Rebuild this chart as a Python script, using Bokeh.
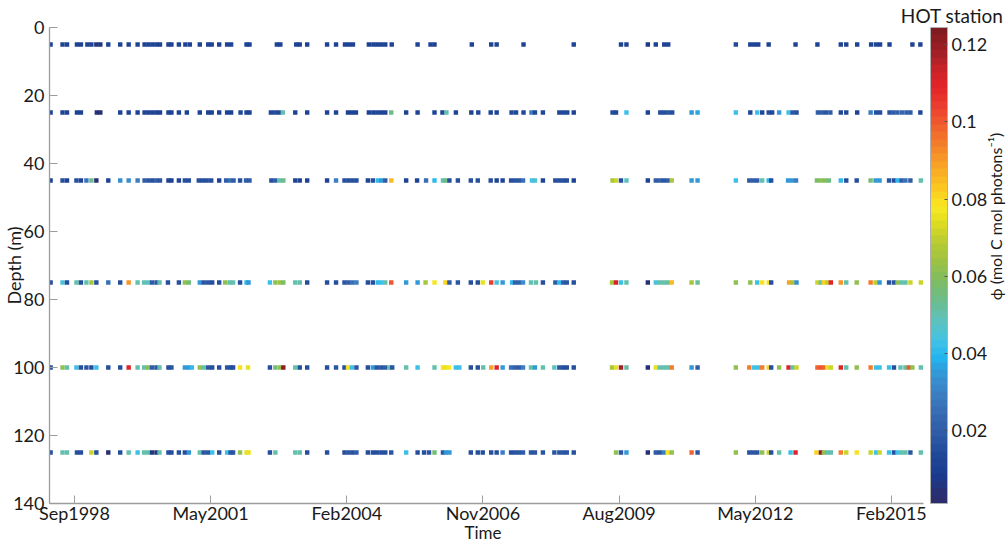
import math
import numpy as np
from bokeh.plotting import figure
from bokeh.models import (ColumnDataSource, LinearColorMapper, ColorBar, FixedTicker,
                          Range1d, CustomJSTickFormatter, Title, Label)
from bokeh.embed import file_html
from bokeh.resources import INLINE

# ---------------- data (time in decimal years, phi in mol C / mol photons) ----------------
DEPTHS = [5, 25, 45, 75, 100, 125]

T5 = [1998.19, 1998.43, 1998.52, 1998.72, 1998.80, 1998.93, 1999.01, 1999.11, 1999.19, 1999.35,
      1999.59, 1999.76, 1999.94, 2000.08, 2000.16, 2000.24, 2000.32, 2000.39, 2000.56, 2000.62,
      2000.77, 2000.90, 2000.99, 2001.19, 2001.36, 2001.43, 2001.58, 2001.74, 2001.82, 2002.13,
      2002.19, 2002.74, 2002.81, 2003.13, 2003.20, 2003.35, 2003.75, 2003.93, 2004.11, 2004.19,
      2004.27, 2004.59, 2004.68, 2004.76, 2004.84, 2004.92, 2005.05, 2005.57, 2005.83, 2005.91,
      2006.66, 2007.05, 2007.16, 2007.70, 2008.71, 2009.66, 2009.77, 2010.20, 2010.36, 2010.53,
      2010.61, 2011.97, 2012.26, 2012.34, 2012.42, 2012.63, 2013.17, 2013.61, 2014.08, 2014.19,
      2014.41, 2014.69, 2014.79, 2014.87, 2015.06, 2015.52, 2015.68]
V5 = [0.012, 0.011, 0.012, 0.011, 0.012, 0.012, 0.011, 0.006, 0.006, 0.011,
      0.012, 0.012, 0.011, 0.012, 0.011, 0.012, 0.011, 0.012, 0.011, 0.012,
      0.012, 0.011, 0.012, 0.012, 0.011, 0.012, 0.011, 0.012, 0.011, 0.012,
      0.012, 0.011, 0.012, 0.011, 0.012, 0.012, 0.011, 0.012, 0.012, 0.011,
      0.012, 0.011, 0.012, 0.012, 0.011, 0.012, 0.011, 0.012, 0.012, 0.011,
      0.012, 0.012, 0.011, 0.012, 0.011, 0.012, 0.011, 0.008, 0.012, 0.011,
      0.012, 0.013, 0.012, 0.011, 0.012, 0.012, 0.011, 0.012, 0.012, 0.011,
      0.012, 0.012, 0.013, 0.012, 0.012, 0.011, 0.012]

T25 = [1998.19, 1998.43, 1998.52, 1998.72, 1998.80, 1999.12, 1999.19, 1999.59, 1999.76, 1999.94,
       2000.08, 2000.16, 2000.24, 2000.32, 2000.39, 2000.56, 2000.62, 2000.77, 2000.93, 2001.19,
       2001.36, 2001.43, 2001.58, 2001.74, 2001.82, 2002.01, 2002.13, 2002.19, 2002.62, 2002.70,
       2002.78, 2002.86, 2003.11, 2003.35, 2003.75, 2003.93, 2004.17, 2004.25, 2004.33, 2004.59,
       2004.68, 2004.76, 2004.84, 2004.92, 2005.04, 2005.34, 2005.57, 2005.91, 2006.07, 2006.15,
       2006.34, 2006.65, 2006.79, 2007.04, 2007.16, 2007.46, 2007.55, 2007.70, 2007.86, 2007.93,
       2008.09, 2008.42, 2008.50, 2008.58, 2008.71, 2009.49, 2009.56, 2009.77, 2010.20, 2010.45,
       2010.53, 2010.61, 2010.69, 2011.08, 2011.20, 2011.97, 2012.26, 2012.40, 2012.50, 2012.63,
       2012.70, 2012.84, 2013.03, 2013.11, 2013.19, 2013.62, 2013.70, 2013.78, 2013.87, 2014.08,
       2014.19, 2014.41, 2014.68, 2014.79, 2014.87, 2015.06, 2015.14, 2015.22, 2015.31, 2015.40,
       2015.48, 2015.68]
V25 = [0.012, 0.012, 0.012, 0.012, 0.012, 0.005, 0.005, 0.012, 0.012, 0.012,
       0.012, 0.012, 0.012, 0.012, 0.012, 0.012, 0.012, 0.012, 0.012, 0.012,
       0.012, 0.012, 0.012, 0.012, 0.012, 0.013, 0.012, 0.012, 0.014, 0.016,
       0.014, 0.050, 0.012, 0.012, 0.012, 0.012, 0.012, 0.012, 0.012, 0.012,
       0.012, 0.013, 0.012, 0.012, 0.055, 0.012, 0.012, 0.012, 0.013, 0.050,
       0.012, 0.012, 0.014, 0.012, 0.012, 0.014, 0.014, 0.014, 0.030, 0.014,
       0.013, 0.014, 0.014, 0.014, 0.012, 0.015, 0.014, 0.042, 0.012, 0.016,
       0.016, 0.018, 0.016, 0.035, 0.036, 0.042, 0.013, 0.042, 0.013, 0.015,
       0.014, 0.035, 0.042, 0.018, 0.016, 0.020, 0.022, 0.018, 0.020, 0.014,
       0.014, 0.012, 0.030, 0.016, 0.015, 0.018, 0.020, 0.022, 0.024, 0.022,
       0.020, 0.014]

T45 = [1998.19, 1998.43, 1998.52, 1998.71, 1998.80, 1998.91, 1999.01, 1999.11, 1999.35, 1999.59,
       1999.76, 1999.94, 2000.08, 2000.16, 2000.24, 2000.32, 2000.39, 2000.56, 2000.62, 2000.77,
       2000.89, 2000.97, 2001.17, 2001.25, 2001.33, 2001.42, 2001.58, 2001.72, 2001.80, 2001.87,
       2002.00, 2002.12, 2002.19, 2002.63, 2002.71, 2002.80, 2002.87, 2003.11, 2003.20, 2003.35,
       2003.75, 2003.93, 2004.10, 2004.18, 2004.26, 2004.34, 2004.57, 2004.67, 2004.77, 2004.84,
       2004.92, 2005.04, 2005.34, 2005.56, 2005.74, 2005.91, 2006.08, 2006.13, 2006.21, 2006.38,
       2006.64, 2006.78, 2007.04, 2007.16, 2007.28, 2007.45, 2007.53, 2007.61, 2007.69, 2007.87,
       2007.93, 2008.09, 2008.34, 2008.42, 2008.50, 2008.57, 2008.71, 2009.49, 2009.56, 2009.66,
       2009.77, 2010.20, 2010.36, 2010.44, 2010.52, 2010.60, 2010.68, 2011.08, 2011.20, 2011.97,
       2012.24, 2012.32, 2012.40, 2012.50, 2012.63, 2012.68, 2013.02, 2013.10, 2013.18, 2013.60,
       2013.68, 2013.76, 2013.84, 2014.08, 2014.19, 2014.40, 2014.68, 2014.78, 2014.86, 2015.05,
       2015.15, 2015.22, 2015.30, 2015.38, 2015.48, 2015.69]
V45 = [0.012, 0.015, 0.012, 0.015, 0.012, 0.028, 0.055, 0.005, 0.012, 0.032,
       0.032, 0.030, 0.020, 0.018, 0.015, 0.020, 0.018, 0.012, 0.012, 0.012,
       0.015, 0.015, 0.015, 0.015, 0.015, 0.015, 0.012, 0.020, 0.025, 0.020,
       0.015, 0.020, 0.020, 0.015, 0.020, 0.050, 0.055, 0.012, 0.012, 0.012,
       0.012, 0.030, 0.015, 0.015, 0.015, 0.015, 0.012, 0.015, 0.040, 0.035,
       0.020, 0.085, 0.012, 0.012, 0.025, 0.040, 0.050, 0.055, 0.015, 0.015,
       0.015, 0.015, 0.015, 0.012, 0.012, 0.015, 0.018, 0.018, 0.025, 0.045,
       0.045, 0.012, 0.015, 0.015, 0.015, 0.015, 0.012, 0.065, 0.072, 0.015,
       0.048, 0.012, 0.020, 0.022, 0.018, 0.020, 0.065, 0.035, 0.035, 0.042,
       0.020, 0.020, 0.020, 0.050, 0.040, 0.015, 0.035, 0.035, 0.030, 0.058,
       0.062, 0.060, 0.055, 0.040, 0.015, 0.015, 0.056, 0.035, 0.035, 0.018,
       0.015, 0.040, 0.020, 0.025, 0.020, 0.050]

T75 = [1998.19, 1998.43, 1998.52, 1998.71, 1998.80, 1998.91, 1999.01, 1999.11, 1999.35, 1999.59,
       1999.76, 1999.94, 2000.07, 2000.15, 2000.23, 2000.32, 2000.38, 2000.55, 2000.77, 2000.89,
       2000.97, 2001.19, 2001.27, 2001.36, 2001.44, 2001.58, 2001.70, 2001.79, 2001.86, 2002.00,
       2002.13, 2002.17, 2002.60, 2002.71, 2002.80, 2002.87, 2003.11, 2003.20, 2003.35, 2003.75,
       2003.93, 2004.10, 2004.18, 2004.26, 2004.34, 2004.57, 2004.67, 2004.77, 2004.84, 2004.92,
       2005.04, 2005.34, 2005.57, 2005.73, 2005.91, 2006.13, 2006.21, 2006.38, 2006.64, 2006.78,
       2006.88, 2007.05, 2007.16, 2007.28, 2007.47, 2007.53, 2007.61, 2007.69, 2007.85, 2007.95,
       2008.09, 2008.34, 2008.42, 2008.50, 2008.57, 2008.71, 2009.48, 2009.56, 2009.66, 2009.77,
       2010.20, 2010.36, 2010.44, 2010.52, 2010.60, 2010.68, 2011.08, 2011.20, 2011.97, 2012.26,
       2012.40, 2012.50, 2012.63, 2012.68, 2013.04, 2013.11, 2013.19, 2013.61, 2013.68, 2013.74,
       2013.81, 2013.88, 2014.08, 2014.19, 2014.40, 2014.68, 2014.78, 2014.86, 2015.05, 2015.15,
       2015.22, 2015.30, 2015.38, 2015.48, 2015.69]
V75 = [0.015, 0.045, 0.015, 0.050, 0.015, 0.050, 0.065, 0.015, 0.025, 0.015,
       0.090, 0.050, 0.050, 0.048, 0.020, 0.018, 0.050, 0.015, 0.015, 0.062,
       0.057, 0.035, 0.018, 0.018, 0.015, 0.015, 0.062, 0.050, 0.050, 0.015,
       0.040, 0.035, 0.042, 0.062, 0.063, 0.058, 0.050, 0.050, 0.015, 0.015,
       0.015, 0.018, 0.020, 0.025, 0.030, 0.015, 0.015, 0.040, 0.042, 0.050,
       0.100, 0.035, 0.035, 0.065, 0.078, 0.082, 0.020, 0.018, 0.015, 0.015,
       0.075, 0.105, 0.045, 0.035, 0.040, 0.022, 0.022, 0.032, 0.050, 0.050,
       0.015, 0.020, 0.040, 0.020, 0.018, 0.015, 0.065, 0.112, 0.042, 0.050,
       0.005, 0.045, 0.050, 0.050, 0.052, 0.085, 0.065, 0.052, 0.062, 0.062,
       0.042, 0.080, 0.080, 0.015, 0.088, 0.065, 0.032, 0.072, 0.050, 0.082,
       0.070, 0.110, 0.090, 0.050, 0.062, 0.095, 0.070, 0.035, 0.018, 0.018,
       0.062, 0.050, 0.050, 0.072, 0.072]

T100 = [1998.19, 1998.43, 1998.52, 1998.71, 1998.80, 1998.91, 1999.01, 1999.11, 1999.35, 1999.59,
        1999.76, 1999.94, 2000.07, 2000.15, 2000.23, 2000.32, 2000.38, 2000.56, 2000.62, 2000.89,
        2000.97, 2001.03, 2001.19, 2001.27, 2001.36, 2001.44, 2001.58, 2001.74, 2001.81, 2001.86,
        2002.00, 2002.16, 2002.60, 2002.71, 2002.80, 2002.87, 2003.11, 2003.20, 2003.35, 2003.75,
        2003.93, 2004.10, 2004.17, 2004.25, 2004.34, 2004.57, 2004.67, 2004.75, 2004.84, 2004.92,
        2005.00, 2005.06, 2005.34, 2005.57, 2005.91, 2006.08, 2006.13, 2006.20, 2006.34, 2006.41,
        2006.64, 2006.78, 2006.89, 2007.05, 2007.16, 2007.28, 2007.45, 2007.53, 2007.61, 2007.69,
        2007.85, 2007.93, 2008.09, 2008.32, 2008.42, 2008.50, 2008.57, 2008.71, 2009.48, 2009.56,
        2009.66, 2009.77, 2010.20, 2010.36, 2010.44, 2010.52, 2010.60, 2010.68, 2011.08, 2011.20,
        2011.97, 2012.24, 2012.34, 2012.42, 2012.50, 2012.63, 2012.68, 2012.84, 2013.03, 2013.11,
        2013.19, 2013.61, 2013.68, 2013.74, 2013.81, 2013.88, 2014.08, 2014.19, 2014.40, 2014.68,
        2014.79, 2014.86, 2015.05, 2015.15, 2015.28, 2015.38, 2015.45, 2015.52, 2015.69]
V100 = [0.015, 0.062, 0.050, 0.042, 0.015, 0.018, 0.015, 0.042, 0.015, 0.015,
        0.110, 0.050, 0.050, 0.060, 0.020, 0.018, 0.050, 0.015, 0.018, 0.035,
        0.035, 0.040, 0.062, 0.050, 0.018, 0.015, 0.015, 0.018, 0.015, 0.015,
        0.080, 0.075, 0.015, 0.056, 0.062, 0.122, 0.050, 0.015, 0.015, 0.015,
        0.018, 0.015, 0.080, 0.042, 0.018, 0.015, 0.035, 0.018, 0.018, 0.020,
        0.050, 0.018, 0.050, 0.042, 0.050, 0.080, 0.075, 0.078, 0.042, 0.042,
        0.015, 0.015, 0.050, 0.088, 0.110, 0.035, 0.025, 0.022, 0.020, 0.030,
        0.050, 0.035, 0.050, 0.048, 0.018, 0.015, 0.015, 0.015, 0.065, 0.075,
        0.118, 0.052, 0.005, 0.075, 0.050, 0.050, 0.050, 0.095, 0.035, 0.020,
        0.062, 0.095, 0.042, 0.042, 0.095, 0.082, 0.015, 0.062, 0.110, 0.050,
        0.072, 0.098, 0.100, 0.098, 0.075, 0.072, 0.110, 0.050, 0.062, 0.095,
        0.042, 0.042, 0.042, 0.015, 0.050, 0.052, 0.100, 0.062, 0.050]

T125 = [1998.19, 1998.43, 1998.52, 1998.72, 1998.80, 1999.01, 1999.11, 1999.35, 1999.59, 1999.76,
        1999.94, 2000.07, 2000.15, 2000.23, 2000.32, 2000.38, 2000.56, 2000.62, 2000.77, 2000.89,
        2000.97, 2001.19, 2001.27, 2001.36, 2001.44, 2001.58, 2001.74, 2001.81, 2001.86, 2002.00,
        2002.13, 2002.17, 2002.60, 2002.71, 2003.11, 2003.20, 2003.35, 2003.75, 2004.10, 2004.18,
        2004.26, 2004.34, 2004.57, 2004.67, 2004.75, 2004.84, 2004.92, 2005.04, 2005.34, 2005.57,
        2005.70, 2005.80, 2005.91, 2006.08, 2006.14, 2006.21, 2006.64, 2006.78, 2006.88, 2007.05,
        2007.16, 2007.28, 2007.45, 2007.53, 2007.61, 2007.69, 2007.85, 2007.93, 2008.09, 2008.32,
        2008.42, 2008.50, 2008.57, 2008.71, 2009.56, 2009.66, 2009.77, 2010.20, 2010.36, 2010.44,
        2010.52, 2010.60, 2010.68, 2011.08, 2011.20, 2011.97, 2012.24, 2012.32, 2012.40, 2012.50,
        2012.63, 2012.68, 2012.84, 2013.07, 2013.17, 2013.59, 2013.68, 2013.74, 2013.81, 2013.88,
        2014.08, 2014.19, 2014.40, 2014.68, 2014.79, 2014.86, 2015.05, 2015.15, 2015.22, 2015.30,
        2015.38, 2015.48, 2015.69]
V125 = [0.015, 0.050, 0.050, 0.015, 0.015, 0.072, 0.015, 0.005, 0.015, 0.050,
        0.042, 0.050, 0.050, 0.006, 0.006, 0.050, 0.015, 0.015, 0.015, 0.015,
        0.035, 0.050, 0.018, 0.018, 0.042, 0.015, 0.042, 0.018, 0.018, 0.062,
        0.075, 0.075, 0.015, 0.050, 0.050, 0.050, 0.015, 0.015, 0.015, 0.018,
        0.015, 0.020, 0.015, 0.015, 0.015, 0.015, 0.015, 0.018, 0.042, 0.015,
        0.015, 0.018, 0.056, 0.018, 0.035, 0.035, 0.015, 0.015, 0.015, 0.015,
        0.015, 0.030, 0.015, 0.018, 0.018, 0.020, 0.018, 0.018, 0.018, 0.018,
        0.018, 0.018, 0.018, 0.015, 0.062, 0.018, 0.035, 0.005, 0.020, 0.018,
        0.030, 0.080, 0.062, 0.098, 0.018, 0.062, 0.018, 0.018, 0.018, 0.062,
        0.072, 0.015, 0.050, 0.042, 0.110, 0.082, 0.122, 0.062, 0.050, 0.050,
        0.095, 0.072, 0.080, 0.072, 0.042, 0.072, 0.042, 0.015, 0.042, 0.050,
        0.050, 0.018, 0.050]

SERIES_T = [T5, T25, T45, T75, T100, T125]
SERIES_V = [V5, V25, V45, V75, V100, V125]

TICK_YEARS = [1998.670, 2001.408, 2004.146, 2006.884, 2009.622, 2012.360, 2015.098]
TICK_LABELS = ["Sep1998", "May2001", "Feb2004", "Nov2006", "Aug2009", "May2012", "Feb2015"]
DEPTH_TICKS = [0, 20, 40, 60, 80, 100, 120, 140]
CBAR_TICKS = [0.02, 0.04, 0.06, 0.08, 0.10, 0.12]
PHI_LOW, PHI_HIGH = 0.0012, 0.1244
X_START, X_END = 1998.168, 2015.745     # extent of the time axis

# ---------------- layout (pixels) ----------------
W, H = 1006, 544
LEFT, TOP, BOTTOM = 48, 27, 41
AXIS_W = 875              # length of the time axis; the frame continues right to hold the colour bar
FRAME_W = W - LEFT
FRAME_H = H - TOP - BOTTOM

# ---------------- colour map ----------------
ANCHORS = [(0.000, "#2b2d6e"), (0.019, "#2a2e70"), (0.061, "#1a3c90"), (0.103, "#204898"),
           (0.145, "#2e5aa6"), (0.187, "#366ab2"), (0.229, "#3a7ec2"), (0.271, "#3496d4"),
           (0.306, "#22b4ee"), (0.341, "#42c2e6"), (0.383, "#5cc2c0"), (0.425, "#6cbc8c"),
           (0.467, "#7ebc62"), (0.509, "#9cc244"), (0.552, "#bccc30"), (0.587, "#dcdc22"),
           (0.622, "#f8ea22"), (0.664, "#fcc620"), (0.706, "#f8a626"), (0.748, "#f4842a"),
           (0.790, "#f0622e"), (0.832, "#ec4030"), (0.874, "#e4242a"), (0.909, "#cc2228"),
           (0.944, "#a42026"), (1.000, "#7a1a1e")]


def build_palette(anchors, n=64):
    fr = np.array([a[0] for a in anchors])
    cols = np.array([[int(a[1][i:i + 2], 16) for i in (1, 3, 5)] for a in anchors], float)
    out = []
    for t in (np.arange(n) + 0.5) / n:
        rgb = [int(round(np.interp(t, fr, cols[:, k]))) for k in range(3)]
        out.append("#%02x%02x%02x" % tuple(rgb))
    return out


PALETTE = build_palette(ANCHORS)
FONT = "Lato"
TEXT = "#1a1a1a"
AXIS = "#9c9c9c"

mapper = LinearColorMapper(palette=PALETTE, low=PHI_LOW, high=PHI_HIGH)

x_frame_end = X_START + (X_END - X_START) * FRAME_W / AXIS_W
p = figure(width=W, height=H, x_range=Range1d(X_START, x_frame_end), y_range=Range1d(140, 0),
           output_backend="svg", toolbar_location=None,
           min_border_left=LEFT, min_border_right=0, min_border_top=TOP, min_border_bottom=BOTTOM)
p.outline_line_color = None
p.grid.visible = False
p.background_fill_color = "white"
p.border_fill_color = "white"

for d, ts, vs in zip(DEPTHS, SERIES_T, SERIES_V):
    assert len(ts) == len(vs), (d, len(ts), len(vs))
    src = ColumnDataSource(dict(t=ts, depth=[d] * len(ts), phi=vs))
    p.scatter("t", "depth", source=src, marker="square", size=4.4,
              fill_color={"field": "phi", "transform": mapper}, line_color=None)

xa = p.xaxis[0]
xa.bounds = (X_START, X_END)
xa.ticker = FixedTicker(ticks=TICK_YEARS)
xa.formatter = CustomJSTickFormatter(
    args=dict(tv=TICK_YEARS, tl=TICK_LABELS),
    code="""
    let best = 0;
    for (let i = 0; i < tv.length; i++) {
        if (Math.abs(tv[i] - tick) < Math.abs(tv[best] - tick)) { best = i; }
    }
    return tl[best];
    """)
ya = p.yaxis[0]
ya.ticker = FixedTicker(ticks=DEPTH_TICKS)

for ax in (xa, ya):
    ax.axis_line_color = AXIS
    ax.axis_line_width = 1.3
    ax.major_tick_line_color = AXIS
    ax.major_tick_line_width = 1
    ax.major_tick_in = 8
    ax.major_tick_out = 0
    ax.minor_tick_line_color = None
    ax.major_label_text_font = FONT
    ax.major_label_text_font_size = "18px"
    ax.major_label_text_color = TEXT
    ax.axis_label_text_font = FONT
    ax.axis_label_text_font_style = "normal"
    ax.axis_label_text_color = TEXT

xa.major_label_standoff = -2
ya.axis_label = "Depth (m)"
ya.axis_label_text_font_size = "18px"
ya.major_label_standoff = 5
ya.axis_label_standoff = -15

# x-axis title, placed under the time axis (not under the whole frame)
p.add_layout(Title(text="Time", align="left", offset=415, standoff=-10, vertical_align="top",
                   text_font=FONT, text_font_size="17px", text_font_style="normal",
                   text_color=TEXT), "below")

cb = ColorBar(color_mapper=mapper, ticker=FixedTicker(ticks=CBAR_TICKS),
              formatter=CustomJSTickFormatter(code="return String(Math.round(tick * 100) / 100);"),
              width=17, height=FRAME_H, location=(AXIS_W + 6, 0), margin=0, padding=0,
              label_standoff=4,
              major_label_text_font=FONT, major_label_text_font_size="18px",
              major_label_text_color=TEXT,
              major_tick_in=3, major_tick_out=0, major_tick_line_color="#555555",
              minor_tick_line_color=None, bar_line_color="#b0b0b0",
              border_line_color=None, background_fill_color=None)
p.add_layout(cb)

p.add_layout(Label(x=AXIS_W + 71, y=FRAME_H - 189, x_units="screen", y_units="screen",
                   text="\u03d5 (mol C mol photons\u207b\u00b9)", angle=math.pi / 2,
                   text_align="center", text_baseline="middle",
                   text_font=FONT, text_font_size="16px", text_color=TEXT))

p.add_layout(Title(text="HOT station", align="right", offset=3, standoff=-3,
                   vertical_align="top", text_font=FONT, text_font_size="19px",
                   text_font_style="normal", text_color=TEXT), "above")

open("out.html", "w").write(file_html(p, INLINE))
